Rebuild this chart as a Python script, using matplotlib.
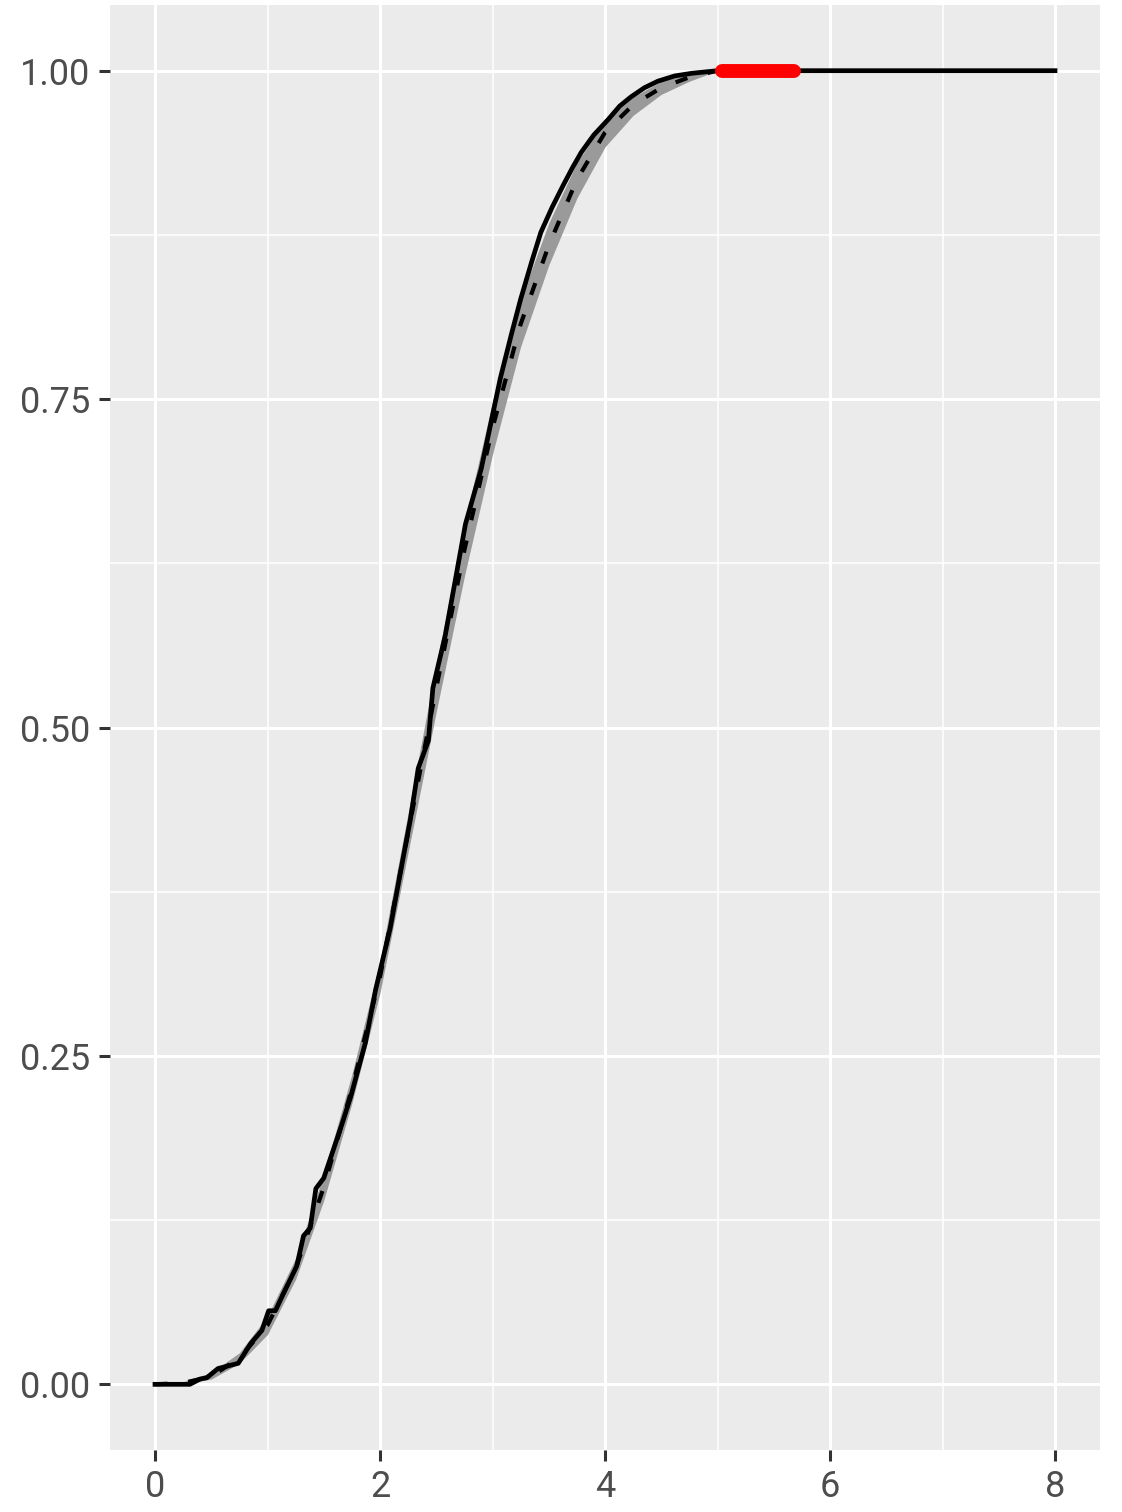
import matplotlib
matplotlib.use("Agg")
import matplotlib.pyplot as plt
import numpy as np

# Empirical CDF (solid line)
ecdf_x = [0.0, 0.31, 0.40, 0.46, 0.56, 0.65, 0.74, 0.85, 0.95, 1.01, 1.07, 1.13, 1.26,
          1.32, 1.38, 1.43, 1.50, 1.65, 1.74, 1.87, 1.96, 2.09, 2.18, 2.27, 2.34, 2.43,
          2.47, 2.58, 2.76, 2.90, 3.07, 3.17, 3.25, 3.35, 3.43, 3.53, 3.63, 3.71, 3.79, 3.90,
          4.03, 4.13, 4.23, 4.35, 4.47, 4.62, 4.77, 5.0, 8.0]
ecdf_y = [0.0, 0.0, 0.004, 0.005, 0.012, 0.014, 0.016, 0.031, 0.041, 0.056, 0.056, 0.067, 0.090,
          0.113, 0.119, 0.149, 0.157, 0.195, 0.219, 0.260, 0.300, 0.347, 0.389, 0.430, 0.469, 0.490,
          0.530, 0.570, 0.655, 0.697, 0.766, 0.800, 0.826, 0.855, 0.877, 0.896, 0.913, 0.926, 0.938,
          0.951, 0.963, 0.973, 0.980, 0.987, 0.992, 0.996, 0.998, 1.0, 1.0]

# Fitted CDF (dashed) with confidence band
fit_x = [0.0, 0.25, 0.5, 0.75, 1.0, 1.25, 1.5, 1.75, 2.0, 2.25, 2.5, 2.75, 3.0, 3.25,
         3.5, 3.75, 4.0, 4.25, 4.5, 4.75, 5.0]
fit_y = [0.0, 0.001, 0.006, 0.020, 0.045, 0.088, 0.150, 0.225, 0.310, 0.420, 0.530, 0.635,
         0.728, 0.807, 0.867, 0.917, 0.953, 0.974, 0.987, 0.995, 1.0]
band_hi = [0.0, 0.002, 0.009, 0.024, 0.052, 0.096, 0.160, 0.236, 0.322, 0.435, 0.548, 0.655,
           0.748, 0.826, 0.884, 0.930, 0.962, 0.980, 0.992, 0.998, 1.0]
band_lo = [0.0, 0.000, 0.004, 0.016, 0.038, 0.080, 0.140, 0.214, 0.298, 0.405, 0.512, 0.615,
           0.708, 0.790, 0.852, 0.903, 0.942, 0.966, 0.982, 0.992, 1.0]

# Highlighted segment
seg_x = [5.04, 5.68]
seg_y = [1.0, 1.0]

x_ticks = [0, 2, 4, 6, 8]
y_ticks = [0.0, 0.25, 0.5, 0.75, 1.0]
y_tick_labels = ["0.00", "0.25", "0.50", "0.75", "1.00"]

fig = plt.figure(figsize=(11.22, 15.12), dpi=100)
ax = fig.add_axes([110/1122, 62/1512, 990/1122, 1445/1512])
ax.set_facecolor("#EBEBEB")
for s in ax.spines.values():
    s.set_visible(False)

ax.set_xlim(-0.4, 8.4)
ax.set_ylim(-0.05, 1.05)
ax.set_xticks(x_ticks)
ax.set_yticks(y_ticks)
ax.set_yticklabels(y_tick_labels)
ax.set_xticks([1, 3, 5, 7], minor=True)
ax.set_yticks([0.125, 0.375, 0.625, 0.875], minor=True)
ax.grid(which="major", color="white", linewidth=2.2)
ax.grid(which="minor", color="white", linewidth=1.1)
ax.set_axisbelow(True)
ax.tick_params(which="major", length=8, width=2.2, color="#333333",
               labelsize=26, labelcolor="#4D4D4D", pad=6)
ax.tick_params(which="minor", length=0)
for lab in ax.get_xticklabels() + ax.get_yticklabels():
    lab.set_fontfamily("Roboto")

ax.fill_between(fit_x, band_lo, band_hi, color="#9A9A9A", linewidth=0, zorder=2)
ax.plot(fit_x, fit_y, color="black", linestyle=(0, (3, 5)), linewidth=3.0, zorder=3)
ax.plot(ecdf_x, ecdf_y, color="black", linewidth=3.4, zorder=4, solid_joinstyle="round")
ax.plot(seg_x, seg_y, color="#FF0000", linewidth=10, solid_capstyle="round", zorder=5)

fig.savefig("out.png", dpi=100)
